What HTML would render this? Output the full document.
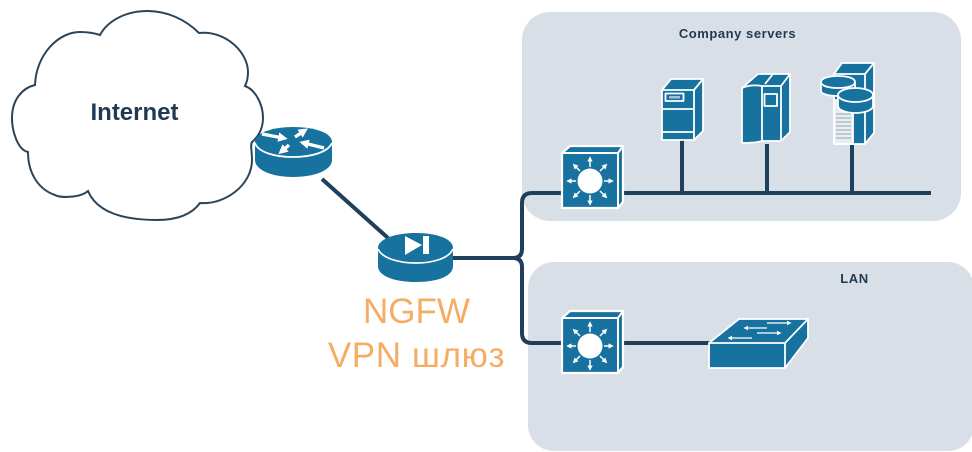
<!DOCTYPE html>
<html><head><meta charset="utf-8"><style>
html,body{margin:0;padding:0;background:#fff}
svg{display:block}
text{font-family:"Liberation Sans",sans-serif}
</style></head><body>
<svg width="972" height="452" viewBox="0 0 972 452" xmlns="http://www.w3.org/2000/svg">
<defs>
<marker id="a" viewBox="0 0 6 6" refX="4" refY="3" markerWidth="3.6" markerHeight="3.6" orient="auto"><path d="M0 0L6 3L0 6z" fill="#fff"/></marker>
<marker id="b" viewBox="0 0 6 6" refX="3" refY="3" markerWidth="2.800" markerHeight="2.800" orient="auto"><path d="M0 0L6 3L0 6z" fill="#fff"/></marker>
<g id="sw">
<path d="M562 153L570 146H623V202L618 208H562Z" fill="#17729f" stroke="#fff" stroke-width="2.200" stroke-linejoin="round"/>
<path d="M562 153H618L623 146M618 153V208" fill="none" stroke="#fff" stroke-width="2"/>
<circle cx="590" cy="181" r="12.500" fill="#fff"/>
<g stroke="#fff" stroke-width="1.500" fill="none">
<path d="M590 167V158" marker-end="url(#a)"/><path d="M590 195V204" marker-end="url(#a)"/><path d="M576 181H568" marker-end="url(#a)"/><path d="M604 181H612" marker-end="url(#a)"/>
<path d="M580 171L574 165" marker-end="url(#a)"/><path d="M600 171L606 165" marker-end="url(#a)"/><path d="M580 191L574 197" marker-end="url(#a)"/><path d="M600 191L606 197" marker-end="url(#a)"/>
</g>
</g>
</defs>
<rect x="522" y="12" width="439" height="209" rx="28" fill="#d9dfe6"/>
<rect x="528" y="262" width="446" height="189" rx="26" fill="#d9dfe6"/>

<path d="M100 35C108 20 127 11 147 11C168 11 186 20 199 33C225 30 248 52 248 72C248 78 247 82 245 86C256 90 263 105 263 118C263 128 259 136 252 142C250 146 252 150 252 160C252 185 225 205 200 203C192 214 178 220 157 220C130 220 98 215 88 191C80 198 60 198 55 195C40 190 28 175 28 152C18 150 12 132 12 118C12 100 22 88 35 85C36 55 58 32 80 32C88 32 94 33 100 35Z" fill="#fff" stroke="#2c4459" stroke-width="2"/>
<text x="134.500" y="120" text-anchor="middle" font-size="24" font-weight="700" fill="#1f3a52">Internet</text>

<path d="M322 179L388 238" stroke="#1f3f5a" stroke-width="4" fill="none"/>
<path d="M452 258H513Q522 258 522 249V203Q522 193 532 193H562" stroke="#1f3f5a" stroke-width="4" fill="none"/>
<path d="M513 258Q522 258 522 267V333Q522 343 532 343H562" stroke="#1f3f5a" stroke-width="4" fill="none"/>
<path d="M624 193H931" stroke="#1f3f5a" stroke-width="4"/>
<path d="M624 343H710" stroke="#1f3f5a" stroke-width="4"/>
<path d="M682 140V193M767 144V193M852 145V193" stroke="#1f3f5a" stroke-width="4"/>

<!-- router -->
<path d="M255 142C255 133 272 127 293 127C315 127 332 133 332 142V160C332 170 315 177 293 177C272 177 255 170 255 160Z" fill="#17729f"/>
<path d="M255 143C258 152 274 157 293 157C312 157 328 152 332 143" fill="none" stroke="#fff" stroke-width="1.800"/>
<g stroke="#fff" stroke-width="3.400" fill="none">
<path d="M262 134L283 138" marker-end="url(#b)"/>
<path d="M324 148L304 143" marker-end="url(#b)"/>
<path d="M295 137L304 131" marker-end="url(#b)"/>
<path d="M289 145L282 151" marker-end="url(#b)"/>
</g>

<!-- firewall -->
<path d="M378 248C378 239 395 233 416 233C437 233 453 239 453 248V266C453 276 438 282 416 282C394 282 378 276 378 266Z" fill="#17729f"/>
<path d="M378 249C382 258 398 263 416 263C434 263 449 258 453 249" fill="none" stroke="#fff" stroke-width="1.700"/>
<path d="M405 236L422 245L405 255Z M423 236H429V254H423Z" fill="#fff"/>

<text x="416.500" y="323" text-anchor="middle" font-size="35" fill="#f5ad66">NGFW</text>
<text x="416.500" y="367" text-anchor="middle" font-size="35" letter-spacing=".6" fill="#f5ad66">VPN шлюз</text>

<text x="737.500" y="38" text-anchor="middle" font-size="13" font-weight="700" letter-spacing=".55" fill="#1f3a52">Company servers</text>
<text x="854.500" y="283" text-anchor="middle" font-size="13" font-weight="700" letter-spacing=".6" fill="#1f3a52">LAN</text>

<use href="#sw"/>
<use href="#sw" y="165"/>

<!-- server 1 -->
<g stroke="#fff" stroke-width="1.800" stroke-linejoin="round">
<path d="M662 90L671 79H703V131L694 140H662Z" fill="#17729f"/>
<path d="M662 90H694L703 79M694 90V140M662 109H694M662 132H694" fill="none"/>
<rect x="665.500" y="93.500" width="18" height="7.500" fill="none"/>
</g>
<rect x="669" y="96" width="11" height="2.500" fill="#9cc5d8"/>
<!-- server 2 -->
<g stroke="#fff" stroke-width="1.800" stroke-linejoin="round">
<path d="M742 88L758 74H790V132L781 141L762 141C756 143 748 143 742 143Z" fill="#17729f"/>
<path d="M742 88C749 85 756 85 762 86H781L790 74M765 84L773 74M762 86V141M781 86V141" fill="none"/>
<rect x="764.500" y="94" width="12.500" height="12" fill="none"/>
</g>
<!-- server 3 -->
<g stroke="#fff" stroke-width="1.800" stroke-linejoin="round">
<path d="M834 74L842 63H874V133L865 144H834Z" fill="#17729f"/>
<path d="M834 74H865L874 63M865 74V144" fill="none"/>
<path d="M834 100H853V144H834Z" fill="#e9eef2"/>
<path d="M836 114H851M836 118H851M836 122H851M836 126H851M836 130H851M836 134H851M836 138H851" stroke="#8fa7b7" stroke-width="1"/>
<path d="M821 82C821 78 829 76 838 76C847 76 855 78 855 82V91C855 94 847 96 838 96C829 96 821 94 821 91Z" fill="#17729f"/>
<path d="M821 82C821 86 829 88 838 88C847 88 855 86 855 82" fill="none"/>
<path d="M838 95C838 91 846 88 855 88C865 88 873 91 873 95V106C873 110 865 113 855 113C846 113 838 110 838 106Z" fill="#17729f"/>
<path d="M838 95C838 99 846 102 855 102C865 102 873 99 873 95" fill="none"/>
</g>

<!-- LAN switch -->
<g stroke="#fff" stroke-width="1.800" stroke-linejoin="round">
<path d="M709 343L739 319H808V338L785 368H709Z" fill="#17729f"/>
<path d="M709 343H785L808 319M785 343V368" fill="none"/>
</g>
<g stroke="#fff" stroke-width="1.300" fill="none">
<path d="M767 323H790" marker-end="url(#a)"/><path d="M757 333H780" marker-end="url(#a)"/>
<path d="M767 328H745" marker-end="url(#a)"/><path d="M752 338H729" marker-end="url(#a)"/>
</g>
</svg>
</body></html>
